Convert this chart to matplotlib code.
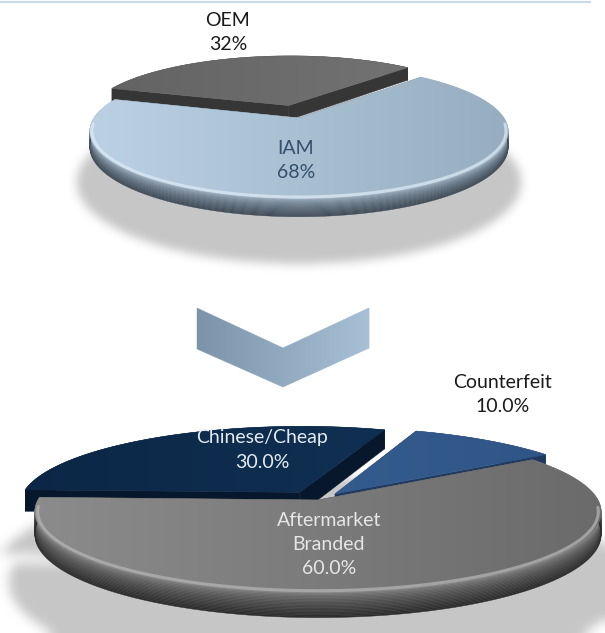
import numpy as np
import matplotlib.pyplot as plt
from matplotlib.patches import Polygon
from matplotlib.path import Path
from matplotlib.colors import to_rgb

W, H = 605, 633

# upper pie: original equipment vs independent aftermarket
top_labels = ["OEM", "IAM"]
top_values = [32, 68]
top_explode = [0.21, 0.0]

# lower pie: how the aftermarket splits up
low_labels = ["Counterfeit", "Chinese/Cheap", "Aftermarket\nBranded"]
low_values = [10.0, 30.0, 60.0]
low_explode = [0.10, 0.12, 0.0]

plt.rcParams['font.family'] = ['Lato', 'DejaVu Sans']

fig = plt.figure(figsize=(W / 100, H / 100), dpi=100)
ax = fig.add_axes([0, 0, 1, 1])
ax.set_xlim(0, W)
ax.set_ylim(H, 0)
ax.axis('off')

yy, xx = np.mgrid[0:H, 0:W] + 0.5
grid_pts = np.column_stack([xx.ravel(), yy.ravel()])

# pie geometry in pixels: centre, radii, perspective, thickness, start angle
top_pie = dict(cx=299, cy=118, a=205, b=64, persp=0.2, h=15, start=47)
low_pie = dict(cx=318, cy=500, a=280, b=78, persp=0.15, h=22, start=34)

top_style = [
    dict(face=("#626262", "#787878"), rim=("#3e3e3e", "#2a2a2a"), side="#363636", hl=None),
    dict(face=("#bcd2e4", "#96adc0"), rim=("#a9bed0", "#3f4c58"), side="#5d7080", hl="#dbe9f4"),
]
low_style = [
    dict(face=("#3b6498", "#2e5484"), rim=("#203c62", "#132843"), side="#1e3a60", hl=None),
    dict(face=("#0c2746", "#12355a"), rim=("#0a1f38", "#051224"), side="#07182c", hl=None),
    dict(face=("#8c8c8c", "#6a6a6a"), rim=("#8a8a8a", "#2c2c2c"), side="#444444", hl="#b4b4b4"),
]


def project(pie, u, v, z=0.0):
    k = 1.0 + pie["persp"] * v
    return pie["cx"] + pie["a"] * u / k, pie["cy"] - (pie["b"] * v + z) / k


def mix(c0, c1, t):
    c0, c1 = np.array(to_rgb(c0)), np.array(to_rgb(c1))
    return tuple(c0 + (c1 - c0) * t)


def grad_fill(verts, c0, c1, x0, x1, z):
    poly = Polygon(verts, closed=True, fc='none', ec=mix(c0, c1, 0.5), lw=0.4, zorder=z)
    ax.add_patch(poly)
    t = np.linspace(0, 1, 256)
    row = np.array([mix(c0, c1, s) for s in t])[None, :, :]
    ymin, ymax = verts[:, 1].min(), verts[:, 1].max()
    im = ax.imshow(row, extent=(x0, x1, ymax, ymin), aspect='auto',
                   interpolation='bilinear', zorder=z)
    im.set_clip_path(poly)


def box_blur(img, r):
    k = 2 * r + 1
    for axis in (0, 1):
        pad = [(0, 0), (0, 0)]
        pad[axis] = (r + 1, r)
        c = np.cumsum(np.pad(img, pad, mode='edge'), axis=axis)
        img = (c[k:] - c[:-k]) / k if axis == 0 else (c[:, k:] - c[:, :-k]) / k
    return img


def slice_angles(pie, values, explode):
    fr = np.asarray(values, float) / np.sum(values)
    edges = pie["start"] + 360 * np.concatenate([[0], np.cumsum(fr)])
    out = []
    for i in range(len(values)):
        t0, t1 = edges[i], edges[i + 1]
        mid = np.radians((t0 + t1) / 2)
        out.append((i, t0, t1, explode[i] * np.cos(mid), explode[i] * np.sin(mid)))
    return out


def arc(t0, t1, n=160):
    th = np.radians(np.linspace(t0, t1, n))
    return np.cos(th), np.sin(th), th


shadow = np.zeros((H, W))


def add_shadow(pie, values, explode, drop, grow, blur):
    global shadow
    mask = np.zeros(H * W)
    for i, t0, t1, eu, ev in slice_angles(pie, values, explode):
        cu, sv, _ = arc(t0, t1)
        u = np.r_[eu, eu + grow * cu]
        v = np.r_[ev, ev + grow * sv]
        x, y = project(pie, u, v, -pie["h"] - drop)
        inside = Path(np.column_stack([x, y])).contains_points(grid_pts)
        mask = np.maximum(mask, inside)
    shadow = np.maximum(shadow, box_blur(box_blur(mask.reshape(H, W), blur), blur))


def draw_pie(pie, values, explode, styles, z0):
    sl = slice_angles(pie, values, explode)
    xl = pie["cx"] - pie["a"] * 1.05
    xr = pie["cx"] + pie["a"] * 1.05
    z = z0
    # far slices first so the front slice sits over them
    for i, t0, t1, eu, ev in sorted(sl, key=lambda s: -s[4]):
        st = styles[i]
        cu, sv, th = arc(t0, t1)
        u, v = eu + cu, ev + sv
        # outer rim, shaded from the top edge down
        n = 18
        for k in range(n):
            xa, ya = project(pie, u, v, -pie["h"] * k / n)
            xb, yb = project(pie, u, v, -pie["h"] * (k + 1) / n)
            col = mix(st["rim"][0], st["rim"][1], (k / (n - 1)) ** 0.6)
            verts = np.column_stack([np.r_[xa, xb[::-1]], np.r_[ya, yb[::-1]]])
            ax.add_patch(Polygon(verts, fc=col, ec=col, lw=0.3, zorder=z))
        z += 1
        # cut faces along both radii
        for t in (t0, t1):
            ru, rv = eu + np.cos(np.radians(t)), ev + np.sin(np.radians(t))
            qx, qy = [], []
            for (pu, pv, pz) in [(eu, ev, 0), (ru, rv, 0), (ru, rv, -pie["h"]), (eu, ev, -pie["h"])]:
                px, py = project(pie, pu, pv, pz)
                qx.append(px)
                qy.append(py)
            ax.add_patch(Polygon(np.column_stack([qx, qy]), fc=st["side"], ec=st["side"],
                                 lw=0.3, zorder=z))
        z += 1
        # top face
        fx, fy = project(pie, np.r_[eu, u], np.r_[ev, v], 0)
        grad_fill(np.column_stack([fx, fy]), st["face"][0], st["face"][1], xl, xr, z)
        z += 1
        if st["hl"] is not None:
            front = sv < -0.08
            hx, hy = project(pie, u[front] * 0.99, v[front] * 0.99, 0)
            ax.plot(hx, hy, color=st["hl"], lw=2.2, alpha=0.75, zorder=z,
                    solid_capstyle='round')
        z += 1
    return z


# soft drop shadows under both pies
add_shadow(top_pie, top_values, top_explode, drop=32, grow=1.06, blur=5)
add_shadow(low_pie, low_values, low_explode, drop=44, grow=1.09, blur=6)
rgba = np.zeros((H, W, 4))
rgba[..., :3] = 0.78
rgba[..., 3] = np.clip(shadow, 0, 1)
ax.imshow(rgba, extent=(0, W, H, 0), aspect='auto', interpolation='bilinear', zorder=1)

# thin rule along the top edge
ax.plot([0, 590], [1.5, 1.5], color="#c6daec", lw=1.5, zorder=2)

draw_pie(top_pie, top_values, top_explode, top_style, 10)
draw_pie(low_pie, low_values, low_explode, low_style, 100)

# downward chevron between the pies
chev = np.array([[197, 308], [283, 348], [369, 308], [369, 348], [283, 387], [197, 349]], float)
grad_fill(chev, "#7b94aa", "#a7c0d5", 197, 369, 5)

# slice labels
fs = 14
ls = 1.5
ax.text(228, 33, f"{top_labels[0]}\n{top_values[0]:.0f}%", ha='center', va='center',
        fontsize=fs, color="#1a1a1a", linespacing=ls, zorder=300)
ax.text(296, 161, f"{top_labels[1]}\n{top_values[1]:.0f}%", ha='center', va='center',
        fontsize=fs, color="#34506e", linespacing=ls, zorder=300)
ax.text(503, 394, f"{low_labels[0]}\n{low_values[0]:.1f}%", ha='center', va='center',
        fontsize=fs, color="#1a1a1a", linespacing=ls, zorder=300)
ax.text(262, 450, f"{low_labels[1]}\n{low_values[1]:.1f}%", ha='center', va='center',
        fontsize=fs, color="#e4ebf2", linespacing=ls, zorder=300)
ax.text(329, 545, f"{low_labels[2]}\n{low_values[2]:.1f}%", ha='center', va='center',
        fontsize=fs, color="#e6e6e6", linespacing=ls, zorder=300)

fig.savefig("out.png", dpi=100)
